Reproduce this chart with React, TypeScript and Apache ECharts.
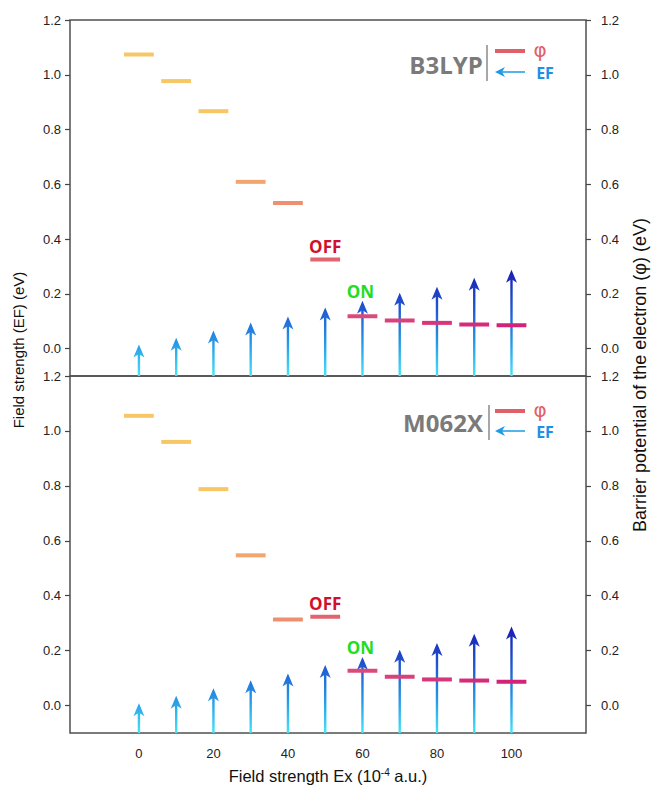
import React, { useEffect, useRef } from "react";
import * as echarts from "echarts";

// ---- data ----
const xValues = [0, 10, 20, 30, 40, 50, 60, 70, 80, 90, 100];
const phiB3LYP = [1.074, 0.977, 0.867, 0.609, 0.532, 0.325, 0.118, 0.103, 0.094, 0.088, 0.085];
const efB3LYP = [0.015, 0.04, 0.066, 0.095, 0.117, 0.15, 0.175, 0.204, 0.226, 0.259, 0.288];
const phiM062X = [1.055, 0.96, 0.788, 0.547, 0.313, 0.323, 0.127, 0.105, 0.095, 0.091, 0.087];
const efM062X = [0.008, 0.036, 0.063, 0.092, 0.117, 0.148, 0.177, 0.203, 0.228, 0.261, 0.288];
const yTicks = [0, 0.2, 0.4, 0.6, 0.8, 1.0, 1.2];
const xTicks = [0, 20, 40, 60, 80, 100];
const panelNames = ["B3LYP", "M062X"];
const offIndex = 5;
const onIndex = 6;

// ---- styles ----
const segColors = [
  "#F7C766", "#F7C766", "#F7C766", "#F2A56D", "#EE9070", "#E2646F",
  "#DB4A7B", "#D9417C", "#D7357C", "#D52B7B", "#D2227A",
];
const arrowStops = [
  { offset: 0, color: "#44E4FA" },
  { offset: 0.3, color: "#2699E6" },
  { offset: 0.6, color: "#1F5AD2" },
  { offset: 1, color: "#1A16AE" },
];
const Y_MIN = -0.1;
const Y_MAX = 1.2;
const X_MIN = -18.5;
const X_MAX = 120;
const FONT = '"Liberation Sans", Arial, sans-serif';

function segmentSeries(data: number[], idx: number) {
  return {
    type: "custom",
    xAxisIndex: idx,
    yAxisIndex: idx * 2 + 1,
    data: xValues.map((x, i) => [x, data[i]]),
    renderItem: (params: any, api: any) => {
      const i = params.dataIndex;
      const c = api.coord([api.value(0), api.value(1)]);
      const w = api.size([8, 0])[0];
      const children: any[] = [
        {
          type: "rect",
          shape: { x: c[0] - w / 2, y: c[1] - 2, width: w, height: 4 },
          style: { fill: segColors[i] },
        },
      ];
      if (i === offIndex) {
        children.push({
          type: "text",
          x: c[0],
          y: c[1] - 13,
          style: {
            text: "OFF",
            fill: "#D0102C",
            font: 'bold 17px "Open Sans", sans-serif',
            align: "center",
            verticalAlign: "middle",
          },
        });
      }
      return { type: "group", children };
    },
    z: 3,
  };
}

function arrowSeries(data: number[], idx: number) {
  return {
    type: "custom",
    xAxisIndex: idx,
    yAxisIndex: idx * 2,
    data: xValues.map((x, i) => [x, data[i]]),
    renderItem: (params: any, api: any) => {
      const i = params.dataIndex;
      const x = api.value(0);
      const top = api.coord([x, api.value(1)]);
      const bot = api.coord([x, Y_MIN]);
      const gtop = api.coord([x, 0.3]);
      const grad = new echarts.graphic.LinearGradient(0, bot[1], 0, gtop[1], arrowStops, true);
      const px = top[0];
      const ty = top[1];
      const children: any[] = [
        {
          type: "line",
          shape: { x1: px, y1: bot[1], x2: px, y2: ty + 8 },
          style: { stroke: grad, lineWidth: 2.4 },
        },
        {
          type: "polygon",
          shape: {
            points: [
              [px, ty],
              [px - 5.5, ty + 13],
              [px, ty + 9.5],
              [px + 5.5, ty + 13],
            ],
          },
          style: { fill: grad },
        },
      ];
      if (i === onIndex) {
        children.push({
          type: "text",
          x: px - 2,
          y: ty - 9,
          style: {
            text: "ON",
            fill: "#22DD22",
            font: 'bold 17px "Open Sans", sans-serif',
            align: "center",
            verticalAlign: "middle",
          },
        });
      }
      return { type: "group", children };
    },
    z: 2,
  };
}

function legendGroup(name: string, cx: number, cy: number, lineX: number, yRed: number, yArrow: number) {
  return {
    type: "group",
    children: [
      {
        type: "text",
        x: cx,
        y: cy,
        style: {
          text: name,
          fill: "#7A7A7A",
          font: 'bold 24px "Open Sans", sans-serif',
          align: "center",
          verticalAlign: "middle",
        },
      },
      {
        type: "line",
        shape: { x1: lineX, y1: yRed - 6, x2: lineX, y2: yArrow + 9 },
        style: { stroke: "#8A8A8A", lineWidth: 1.5 },
      },
      {
        type: "line",
        shape: { x1: 495, y1: yRed, x2: 525, y2: yRed },
        style: { stroke: "#E0606A", lineWidth: 4 },
      },
      {
        type: "line",
        shape: { x1: 500, y1: yArrow, x2: 525, y2: yArrow },
        style: { stroke: "#1E9BE6", lineWidth: 1.5 },
      },
      {
        type: "polygon",
        shape: { points: [[495, yArrow], [505, yArrow - 5], [502, yArrow], [505, yArrow + 5]] },
        style: { fill: "#1E9BE6" },
      },
      {
        type: "text",
        x: 540,
        y: yRed - 1,
        style: {
          text: "φ",
          fill: "#E0606A",
          font: '20px "DejaVu Sans", sans-serif',
          align: "center",
          verticalAlign: "middle",
        },
      },
      {
        type: "text",
        x: 545,
        y: yArrow + 1,
        style: {
          text: "EF",
          fill: "#1E90E6",
          font: 'bold 16px "Open Sans", sans-serif',
          align: "center",
          verticalAlign: "middle",
        },
      },
    ],
  };
}

function yAxis(grid: number, position: "left" | "right") {
  return {
    type: "value",
    gridIndex: grid,
    position,
    min: Y_MIN,
    max: Y_MAX,
    axisLine: { show: false, onZero: false },
    splitLine: { show: false },
    axisTick: { show: true, customValues: yTicks, length: 5, lineStyle: { color: "#444", width: 1.2 } },
    axisLabel: {
      customValues: yTicks,
      formatter: (v: number) => v.toFixed(1),
      color: "#222",
      fontSize: 13,
      fontFamily: FONT,
      margin: position === "left" ? 9 : 15,
    },
  };
}

export default function App() {
  const ref = useRef<HTMLDivElement>(null);
  useEffect(() => {
    if (!ref.current) return;
    const chart = echarts.init(ref.current, undefined, { renderer: "svg" });
    const gridCommon = {
      left: 70,
      right: 65,
      show: true,
      borderColor: "#505050",
      borderWidth: 1.5,
      backgroundColor: "transparent",
      outerBoundsMode: "none",
      containLabel: false,
    };
    chart.setOption({
      animation: false,
      backgroundColor: "#ffffff",
      grid: [
        { ...gridCommon, top: 20, height: 356 },
        { ...gridCommon, top: 376, height: 357 },
      ],
      xAxis: [
        { type: "value", gridIndex: 0, min: X_MIN, max: X_MAX, show: false, splitLine: { show: false } },
        {
          type: "value",
          gridIndex: 1,
          min: X_MIN,
          max: X_MAX,
          axisLine: { show: false, onZero: false },
          splitLine: { show: false },
          axisTick: { show: false },
          axisLabel: {
            customValues: xTicks,
            color: "#222",
            fontSize: 13,
            fontFamily: FONT,
            margin: 14,
          },
          name: "Field strength Ex (10{sup|-4} a.u.)",
          nameLocation: "middle",
          nameGap: 34,
          nameTextStyle: {
            color: "#111",
            fontSize: 16.5,
            fontFamily: FONT,
            rich: {
              sup: { fontSize: 10, fontFamily: FONT, color: "#111", padding: [0, 0, 8, 0] },
            },
          },
        },
      ],
      yAxis: [yAxis(0, "left"), yAxis(0, "right"), yAxis(1, "left"), yAxis(1, "right")],
      series: [
        arrowSeries(efB3LYP, 0),
        segmentSeries(phiB3LYP, 0),
        arrowSeries(efM062X, 1),
        segmentSeries(phiM062X, 1),
      ],
      graphic: [
        {
          type: "text",
          x: 18,
          y: 350,
          rotation: Math.PI / 2,
          style: {
            text: "Field strength (EF) (eV)",
            fill: "#111",
            font: `15px ${FONT}`,
            align: "center",
            verticalAlign: "middle",
          },
        },
        {
          type: "text",
          x: 640,
          y: 375,
          rotation: Math.PI / 2,
          style: {
            text: "Barrier potential of the electron (φ) (eV)",
            fill: "#111",
            font: `18px ${FONT}`,
            align: "center",
            verticalAlign: "middle",
          },
        },
        legendGroup(panelNames[0], 446, 64, 487, 51, 72),
        legendGroup(panelNames[1], 443, 422, 489, 411, 431),
      ],
    });
    return () => chart.dispose();
  }, []);
  return (
    <div
      ref={ref}
      style={{ position: "absolute", left: 0, top: 0, width: 651, height: 785 }}
    />
  );
}
